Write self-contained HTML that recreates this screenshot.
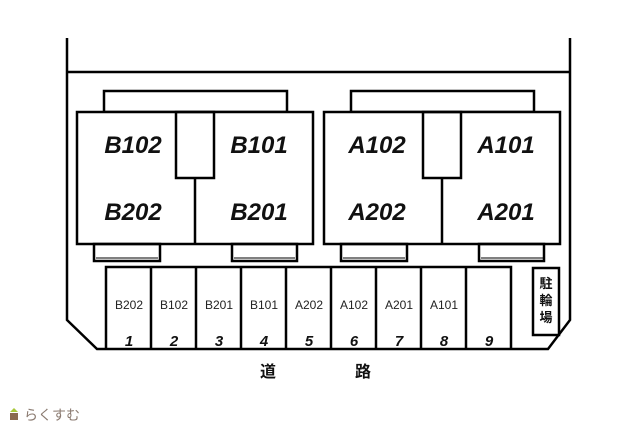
<!DOCTYPE html>
<html><head><meta charset="utf-8"><style>
body{margin:0;background:#fff;width:640px;height:425px;overflow:hidden}
</style></head><body>
<svg width="640" height="425" xmlns="http://www.w3.org/2000/svg" font-family="'Liberation Sans','Noto Sans CJK JP',sans-serif">
<g fill="none" stroke="#000" stroke-width="2.5">
<polyline points="67,38 67,320 97,349 548,349 570,320 570,38"/>
<line x1="67" y1="72" x2="570" y2="72"/>
<!-- B building -->
<rect x="104" y="91" width="183" height="21"/>
<rect x="77" y="112" width="236" height="132" fill="#fff"/>
<rect x="176" y="112" width="38" height="66"/>
<line x1="195" y1="178" x2="195" y2="244"/>
<rect x="94" y="244" width="66" height="17"/>
<rect x="232" y="244" width="65" height="17"/>
<!-- A building -->
<rect x="351" y="91" width="183" height="21"/>
<rect x="324" y="112" width="236" height="132" fill="#fff"/>
<rect x="423" y="112" width="38" height="66"/>
<line x1="442" y1="178" x2="442" y2="244"/>
<rect x="341" y="244" width="66" height="17"/>
<rect x="479" y="244" width="65" height="17"/>
<!-- parking -->
<polyline points="106,349 106,267 511,267 511,349"/>
<line x1="151" y1="267" x2="151" y2="349"/>
<line x1="196" y1="267" x2="196" y2="349"/>
<line x1="241" y1="267" x2="241" y2="349"/>
<line x1="286" y1="267" x2="286" y2="349"/>
<line x1="331" y1="267" x2="331" y2="349"/>
<line x1="376" y1="267" x2="376" y2="349"/>
<line x1="421" y1="267" x2="421" y2="349"/>
<line x1="466" y1="267" x2="466" y2="349"/>
<rect x="533" y="268" width="26" height="67"/>
</g>
<g stroke="#000" stroke-width="1" fill="none"><line x1="96" y1="258" x2="158" y2="258"/><line x1="234" y1="258" x2="295" y2="258"/><line x1="343" y1="258" x2="405" y2="258"/><line x1="481" y1="258" x2="543" y2="258"/></g>
<g font-size="24" font-weight="bold" font-style="italic" text-anchor="middle" fill="#111">
<text x="133" y="153">B102</text><text x="259" y="153">B101</text>
<text x="133" y="220">B202</text><text x="259" y="220">B201</text>
<text x="377" y="153">A102</text><text x="506" y="153">A101</text>
<text x="377" y="220">A202</text><text x="506" y="220">A201</text>
</g>
<g font-size="12" text-anchor="middle" fill="#222">
<text x="129" y="309">B202</text><text x="174" y="309">B102</text><text x="219" y="309">B201</text><text x="264" y="309">B101</text><text x="309" y="309">A202</text><text x="354" y="309">A102</text><text x="399" y="309">A201</text><text x="444" y="309">A101</text>
</g>
<g font-size="15" font-weight="bold" font-style="italic" text-anchor="middle" fill="#111">
<text x="129" y="346">1</text><text x="174" y="346">2</text><text x="219" y="346">3</text><text x="264" y="346">4</text><text x="309" y="346">5</text><text x="354" y="346">6</text><text x="399" y="346">7</text><text x="444" y="346">8</text><text x="489" y="346">9</text>
</g>
<g font-size="13" font-weight="bold" text-anchor="middle" fill="#111">
<text x="546" y="288">駐</text><text x="546" y="305">輪</text><text x="546" y="322">場</text>
<text x="268" y="377" font-size="16">道</text><text x="363" y="377" font-size="16">路</text>
</g>
<polygon points="10,412 14,408 18,412" fill="#a8c83a"/>
<rect x="10" y="413" width="8" height="7" fill="#8a6a50"/>
<text x="24" y="420" font-size="14" fill="#8a7a70">らくすむ</text>
</svg>
</body></html>
